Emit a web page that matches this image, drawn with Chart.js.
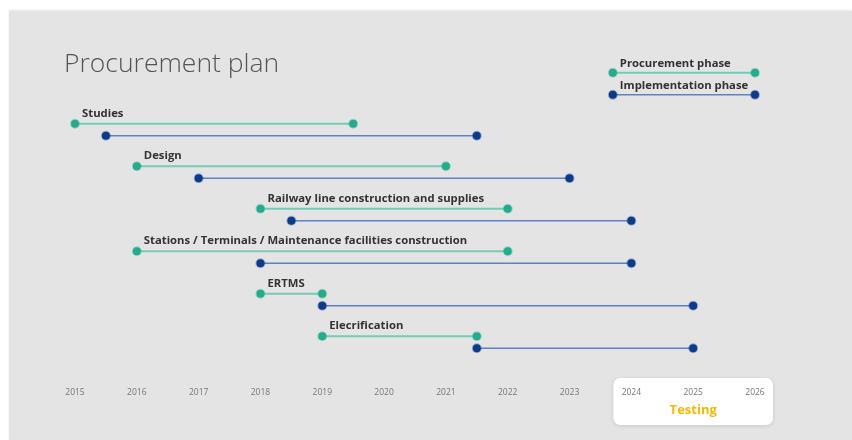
<!DOCTYPE html>
<html>
<head>
<meta charset="utf-8">
<script src="https://cdn.jsdelivr.net/npm/chart.js@4.4.1/dist/chart.umd.min.js"></script>
<style>
  html, body { margin: 0; padding: 0; background: #fff; }
  .wrap  { position: relative; width: 852px; height: 440px; overflow: hidden; }
  .panel { position: absolute; left: 9px; top: 11px; right: 0; bottom: 0;
           background: #e4e4e4; box-shadow: 0 -1px 2px rgba(0,0,0,0.10); }
  canvas { position: absolute; left: 0; top: 0; }
</style>
</head>
<body>
<div class="wrap">
  <div class="panel"></div>
  <canvas id="plan" width="852" height="440"></canvas>
</div>
<script>
/* ================================================
   DATA
================================================ */

const tasks = [
  'Studies',
  'Design',
  'Railway line construction and supplies',
  'Stations / Terminals / Maintenance facilities construction',
  'ERTMS',
  'Elecrification',
];

const procStart = [2015,   2016, 2018,   2016, 2018, 2019];
const procEnd   = [2019.5, 2021, 2022,   2022, 2019, 2021.5];
const implStart = [2015.5, 2017, 2018.5, 2018, 2019, 2021.5];
const implEnd   = [2021.5, 2023, 2024,   2024, 2025, 2025];

const years   = [2015, 2016, 2017, 2018, 2019, 2020, 2021, 2022, 2023, 2024, 2025, 2026];
const testing = [2024, 2026];

const legendLabels = ['Procurement phase', 'Implementation phase'];
const legendSpan   = [2023.7, 2026];
const legendRows   = [-1.2, -0.68];

/* ================================================
   STYLE
================================================ */

const GREEN      = '#22ad8c';
const GREEN_LINE = '#74cbb6';
const BLUE       = '#0c3b8e';
const BLUE_LINE  = '#5f80c2';
const IMPL_OFF   = 0.283;   /* implementation row sits just below procurement */

function phase(x0, x1, y, dot, line, width) {
  return {
    data: [{ x: x0, y }, { x: x1, y }],
    borderColor: line,
    borderWidth: width,
    pointRadius: 4,
    pointHoverRadius: 4,
    pointBackgroundColor: dot,
    pointBorderColor: dot + '55',
    pointBorderWidth: 2,
    clip: false,
  };
}

const datasets = [];
tasks.forEach((t, i) => {
  datasets.push(phase(procStart[i], procEnd[i], i, GREEN, GREEN_LINE, 2));
  datasets.push(phase(implStart[i], implEnd[i], i + IMPL_OFF, BLUE, BLUE_LINE, 1.5));
});
datasets.push(phase(legendSpan[0], legendSpan[1], legendRows[0], GREEN, GREEN_LINE, 2));
datasets.push(phase(legendSpan[0], legendSpan[1], legendRows[1], BLUE, BLUE_LINE, 1.5));

/* ================================================
   PLUGINS
================================================ */

const backdrop = {
  id: 'backdrop',
  beforeDraw(chart) {
    const { ctx, scales: { x } } = chart;
    const x0 = x.getPixelForValue(testing[0]) - 18;
    const x1 = x.getPixelForValue(testing[1]) + 18;
    ctx.save();
    ctx.shadowColor = 'rgba(0,0,0,0.12)';
    ctx.shadowBlur = 4;
    ctx.shadowOffsetY = 1;
    ctx.fillStyle = '#fff';
    ctx.beginPath();
    ctx.roundRect(x0, 378, x1 - x0, 47, 7);
    ctx.fill();
    ctx.restore();

    ctx.save();
    ctx.fillStyle = '#f7b900';
    ctx.font = 'bold 13px "Open Sans"';
    ctx.textAlign = 'center';
    ctx.textBaseline = 'middle';
    ctx.fillText('Testing', (x0 + x1) / 2, 410);
    ctx.restore();
  },
};

const labels = {
  id: 'labels',
  afterDraw(chart) {
    const { ctx, scales: { x, y } } = chart;
    ctx.save();
    ctx.fillStyle = '#555';
    ctx.font = '300 26.5px "Open Sans"';
    ctx.textBaseline = 'middle';
    ctx.fillText('Procurement plan', 64, 64);

    ctx.fillStyle = '#333';
    ctx.font = 'bold 11.3px "Open Sans"';
    tasks.forEach((t, i) => {
      ctx.fillText(t, x.getPixelForValue(procStart[i]) + 7, y.getPixelForValue(i) - 10);
    });
    legendLabels.forEach((t, i) => {
      ctx.fillText(t, x.getPixelForValue(legendSpan[0]) + 7, y.getPixelForValue(legendRows[i]) - 9);
    });
    ctx.restore();
  },
};

/* ================================================
   CHART
================================================ */

new Chart(document.getElementById('plan'), {
  type: 'line',
  data: { datasets },
  plugins: [backdrop, labels],
  options: {
    responsive: false,
    animation: false,
    layout: { padding: { left: 75, right: 97, top: 60, bottom: 37 } },
    plugins: { legend: { display: false }, tooltip: { enabled: false } },
    scales: {
      x: {
        type: 'linear',
        min: years[0],
        max: years[years.length - 1],
        afterFit(scale) { scale.height = 20; },
        afterBuildTicks(scale) { scale.ticks = years.map(v => ({ value: v })); },
        ticks: {
          color: '#777',
          font: { size: 8.5, family: 'Open Sans' },
          padding: 4,
          maxRotation: 0,
          autoSkip: false,
          callback: v => String(v),
        },
        grid: { display: false, drawTicks: false },
        border: { display: false },
      },
      y: {
        type: 'linear',
        reverse: true,
        min: -1.5,
        max: 6.1,
        display: false,
      },
    },
  },
});
</script>
</body>
</html>
